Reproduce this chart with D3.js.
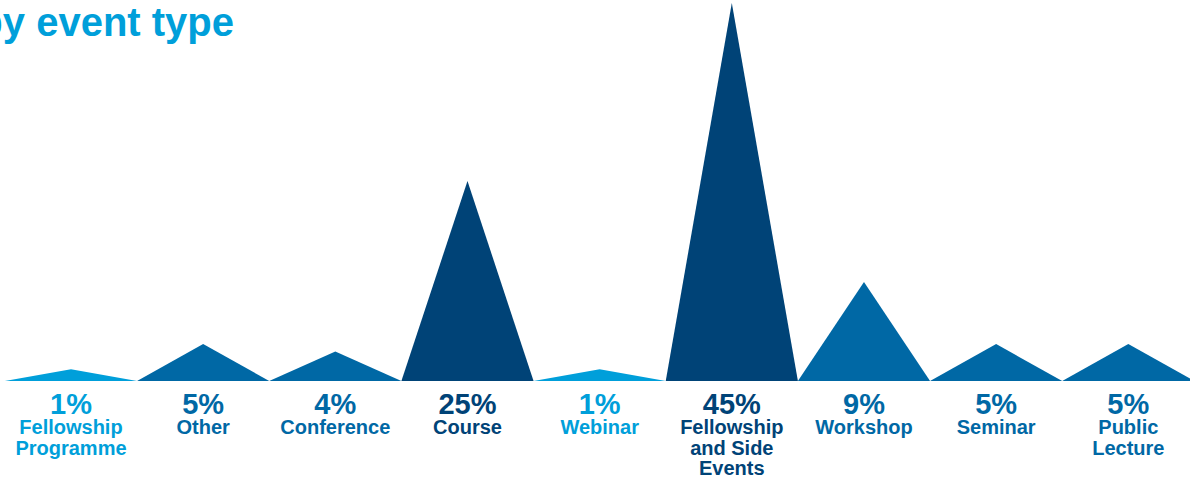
<!DOCTYPE html>
<html>
<head>
<meta charset="utf-8">
<script src="https://cdn.jsdelivr.net/npm/d3@7"></script>
<style>
  html, body { margin: 0; padding: 0; background: #ffffff; }
  svg { display: block; }
  text { font-family: "Liberation Sans", Arial, sans-serif; font-weight: bold; }
</style>
</head>
<body>
<svg id="chart" width="1190" height="484"></svg>
<script>
// ---- data ----
const categories = ["Fellowship Programme", "Other", "Conference", "Course", "Webinar",
                    "Fellowship and Side Events", "Workshop", "Seminar", "Public Lecture"];
const labelLines = [["Fellowship", "Programme"], ["Other"], ["Conference"], ["Course"], ["Webinar"],
                    ["Fellowship", "and Side", "Events"], ["Workshop"], ["Seminar"], ["Public", "Lecture"]];
const shares = [1, 5, 4, 25, 1, 45, 9, 5, 5];            // printed percentages
const peakValues = [1.4, 4.4, 3.5, 23.8, 1.4, 45, 11.8, 4.4, 4.4]; // triangle heights as drawn
const titleText = "Participation by event type";

// ---- layout ----
const svg = d3.select("#chart");
const baseY = 381;
const x = d3.scaleBand().domain(categories).range([4.9, 1194.4]).padding(0);
const y = d3.scaleLinear().domain([0, 45]).range([baseY, 3]);
const color = d3.scaleThreshold().domain([2, 20]).range(["#009fda", "#0068a5", "#004377"]);

const data = categories.map((c, i) => ({ c, share: shares[i], v: peakValues[i], lines: labelLines[i] }));

// title (partially off-canvas on the left, as in the reference)
svg.append("text")
  .attr("x", 234).attr("y", 36)
  .attr("text-anchor", "end")
  .attr("font-size", 40)
  .attr("fill", "#009fda")
  .text(titleText);

// triangles
svg.append("g").selectAll("path").data(data).join("path")
  .attr("d", d => {
    const x0 = x(d.c), x1 = x0 + x.bandwidth(), xc = x0 + x.bandwidth() / 2;
    return `M${x0},${y(0)}L${xc},${y(d.v)}L${x1},${y(0)}Z`;
  })
  .attr("fill", d => color(d.share));

// percent labels
svg.append("g").selectAll("text").data(data).join("text")
  .attr("x", d => x(d.c) + x.bandwidth() / 2)
  .attr("y", 414)
  .attr("text-anchor", "middle")
  .attr("font-size", 29)
  .attr("fill", d => color(d.share))
  .text(d => d.share + "%");

// category labels
const cat = svg.append("g").selectAll("text").data(data).join("text")
  .attr("x", d => x(d.c) + x.bandwidth() / 2)
  .attr("y", 434)
  .attr("text-anchor", "middle")
  .attr("font-size", 20)
  .attr("fill", d => color(d.share));
cat.selectAll("tspan").data(d => d.lines.map(l => ({ l, xc: x(d.c) + x.bandwidth() / 2 }))).join("tspan")
  .attr("x", t => t.xc)
  .attr("dy", (t, i) => i === 0 ? 0 : 20.5)
  .text(t => t.l);
</script>
</body>
</html>
